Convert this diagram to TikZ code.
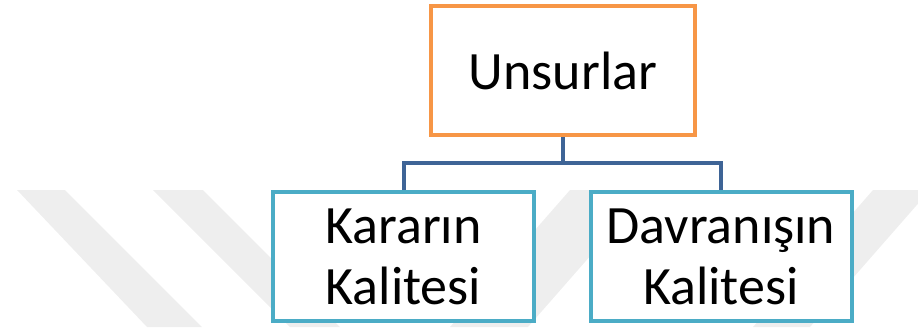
\documentclass[tikz,border=0pt]{standalone}
\usepackage{fontspec}
\setmainfont{Carlito}
\definecolor{orangeb}{HTML}{F79646}
\definecolor{tealb}{HTML}{4BACC6}
\definecolor{linkc}{HTML}{3E6496}
\definecolor{wmgray}{HTML}{EEEEEE}
\begin{document}
\begin{tikzpicture}[x=1pt,y=-1pt,
  topbox/.style={draw=orangeb, line width=4pt, fill=white, minimum width=264pt, minimum height=129pt, inner sep=0pt, font=\fontsize{54}{61}\selectfont},
  subbox/.style={draw=tealb, line width=4pt, fill=white, minimum width=261pt, minimum height=129pt, inner sep=0pt, align=center, font=\fontsize{54}{61}\selectfont},
  linkline/.style={draw=linkc, line width=4pt},
  wmband/.style={fill=wmgray, draw=none}]
\useasboundingbox (0,0) rectangle (918,327);
% watermark bands
\fill[wmband] (17,190) -- (65,190) -- (202,327) -- (147,327) -- cycle;
\fill[wmband] (153,190) -- (203,190) -- (340,327) -- (290,327) -- cycle;
\fill[wmband] (570,190) -- (648,190) -- (528,327) -- (450,327) -- cycle;
\fill[wmband] (873,190) -- (930,190) -- (810,327) -- (753,327) -- cycle;
% boxes
\node[topbox] (top) at (563,70.5) {Unsurlar};
\node[subbox] (left) at (403.5,256.5) {Kararın\\Kalitesi};
\node[subbox] (right) at (721,256.5) {Davranışın\\Kalitesi};
\coordinate (j) at (563,163);
\draw[linkline] (top.south) -- (j);
\draw[linkline] (left.north) |- (j) -| (right.north);
\end{tikzpicture}
\end{document}
